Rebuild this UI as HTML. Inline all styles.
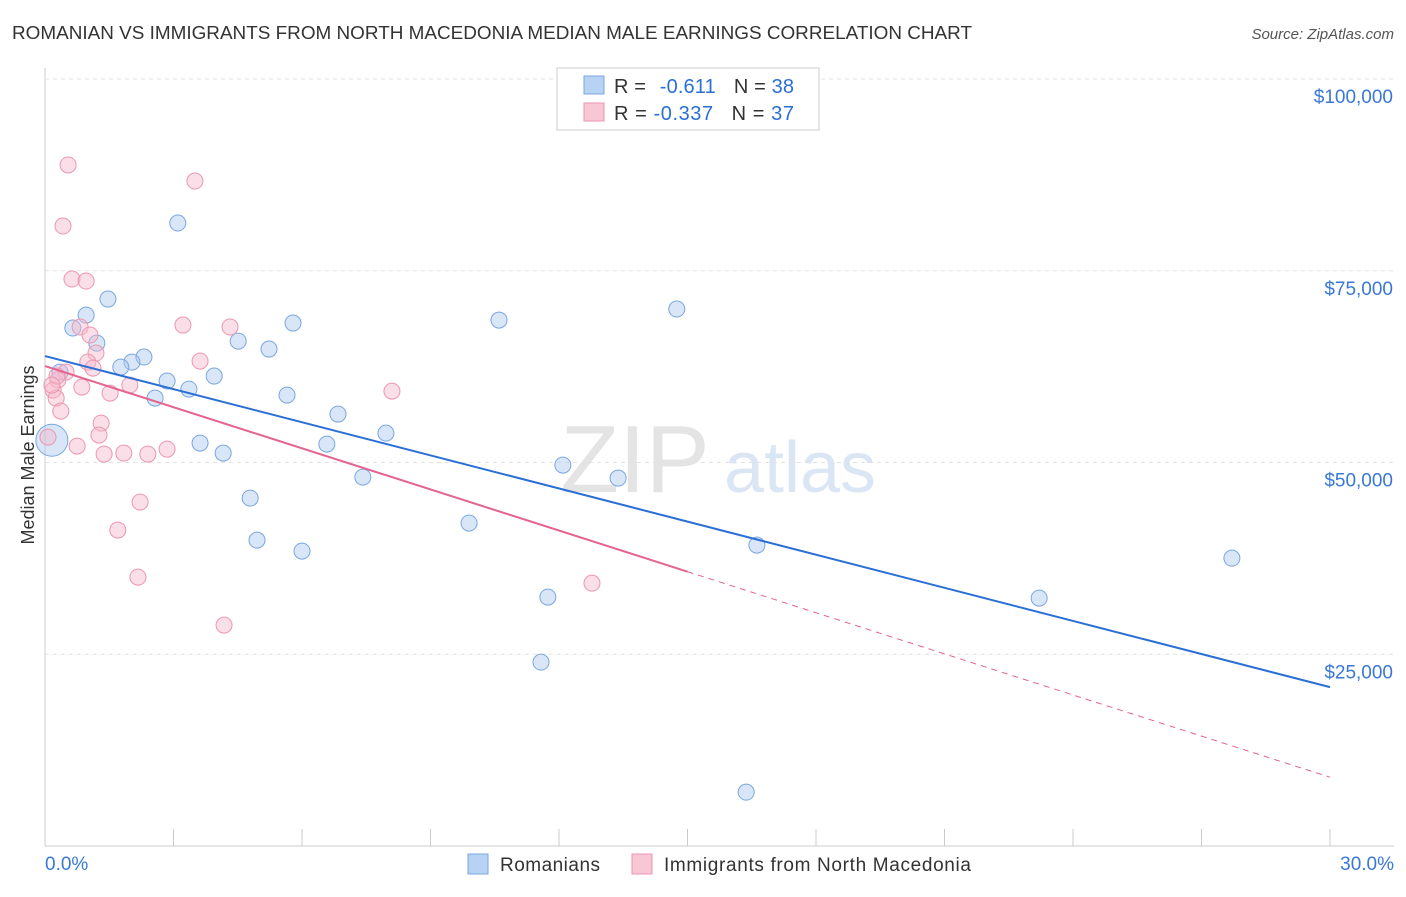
<!DOCTYPE html>
<html><head><meta charset="utf-8"><style>
body{margin:0;background:#fff;font-family:"Liberation Sans",sans-serif;}
svg text{font-family:"Liberation Sans",sans-serif;}
</style></head><body>
<svg id="chart" width="1406" height="892">
<text x="12" y="39" font-size="18.5" fill="#333" textLength="960" lengthAdjust="spacingAndGlyphs">ROMANIAN VS IMMIGRANTS FROM NORTH MACEDONIA MEDIAN MALE EARNINGS CORRELATION CHART</text>
<text x="1394" y="39" font-size="15" fill="#555" text-anchor="end" font-style="italic">Source: ZipAtlas.com</text>
<text x="34" y="455" font-size="18" fill="#333" text-anchor="middle" transform="rotate(-90 34 455)">Median Male Earnings</text>
<text x="635" y="492" font-size="96" fill="#e4e4e4" font-family="Liberation Serif" text-anchor="middle">ZIP</text>
<text x="800" y="492" font-size="72" fill="#dbe6f5" text-anchor="middle">atlas</text>
<g id="grid"></g><g id="marks"></g>
<g>
<rect x="557" y="68" width="262" height="62" fill="#fff" stroke="#ccc"/>
<rect x="584" y="76" width="20" height="18" fill="#b8d2f3" stroke="#7aa7e0"/>
<rect x="584" y="103" width="20" height="18" fill="#f9c6d5" stroke="#eb97b0"/>
<text x="614" y="93" font-size="20" fill="#333" textLength="180" lengthAdjust="spacing">R = <tspan fill="#2a6fd6" dx="8">-0.611</tspan><tspan dx="18" fill="#333">N = </tspan><tspan fill="#2a6fd6">38</tspan></text>
<text x="614" y="120" font-size="20" fill="#333" textLength="180" lengthAdjust="spacing">R = <tspan fill="#2a6fd6">-0.337</tspan><tspan dx="18" fill="#333">N = </tspan><tspan fill="#2a6fd6">37</tspan></text>
</g>
<g>
<rect x="468" y="854" width="20" height="20" fill="#b8d2f3" stroke="#7aa7e0"/>
<text x="500" y="871" font-size="19" fill="#333" textLength="100">Romanians</text>
<rect x="632" y="854" width="20" height="20" fill="#f9c6d5" stroke="#eb97b0"/>
<text x="664" y="871" font-size="19" fill="#333" textLength="307">Immigrants from North Macedonia</text>
</g>
</svg>
<script>
const yTicks=[25000,50000,75000,100000];
const yTickLabels=["$25,000","$50,000","$75,000","$100,000"];
const romX=[0.16,3.10,1.47,0.96,0.65,1.21,2.31,2.03,1.77,0.35,2.85,3.95,3.36,2.57,4.51,5.23,5.79,5.65,6.84,6.58,7.96,7.42,3.62,4.16,4.79,4.95,6.00,10.60,14.75,12.09,13.38,9.90,11.74,11.58,16.62,23.21,27.71,16.37];
const romY=[52900,81220,71310,69220,67530,65570,63750,63090,62440,61790,60620,61270,59570,58400,65830,64790,68180,58790,56310,52400,53830,48100,52530,51230,45360,39880,38450,68570,70010,49660,47970,42100,32450,23970,39230,32320,37530,7020];
const macX=[0.54,3.50,0.42,0.63,0.96,3.22,4.32,0.82,1.05,1.19,1.00,1.12,3.62,0.49,0.30,0.19,0.86,1.52,1.98,0.26,0.37,8.10,1.31,1.26,0.07,0.75,1.38,1.84,2.40,2.85,2.22,1.70,2.17,12.77,4.18,0.28,0.16];
const macY=[88790,86700,80830,73920,73660,67920,67660,67660,66620,64270,63090,62310,63220,61790,60750,59440,59830,59050,60090,58400,56700,59310,55140,53570,53310,52140,51100,51230,51100,51750,44840,41190,35060,34270,28800,61270,60090];
const romTrend=[63880,20710];
const macTrend=[62570,8970];
const macSolidEnd=15;
const X=v=>45+v/30*1285, Y=v=>846-v/100000*767;
const NS="http://www.w3.org/2000/svg";
const grid=document.getElementById('grid'), marks=document.getElementById('marks');
function mk(p,tag,a){const e=document.createElementNS(NS,tag);for(const k in a)e.setAttribute(k,a[k]);p.appendChild(e);return e;}
let ax=mk(grid,'line',{x1:45,x2:45,y1:68,y2:846,stroke:'#ccc'});


let bx=mk(grid,'line',{x1:45,x2:1394,y1:846,y2:846,stroke:'#ccc'});


for(let i=0;i<=10;i++){let t=mk(grid,'line',{x1:X(i*3),x2:X(i*3),y1:829,y2:846,stroke:'#ccc'});

}
yTicks.forEach((v,i)=>{let g=mk(grid,'line',{x1:45,x2:1394,y1:Y(v),y2:Y(v),stroke:'#e2e2e2','stroke-dasharray':'4 4'});


let t=mk(grid,'text',{x:1393,y:Y(v)+24,'font-size':19,fill:'#3a78d8','text-anchor':'end'});t.textContent=yTickLabels[i];

});
let l0=mk(grid,'text',{x:45,y:870,'font-size':19,fill:'#3a78d8'});l0.textContent='0.0%';


let l1=mk(grid,'text',{x:1394,y:870,'font-size':19,fill:'#3a78d8','text-anchor':'end'});l1.textContent='30.0%';


romX.forEach((x,i)=>{let c=mk(marks,'circle',{cx:X(x),cy:Y(romY[i]),r:i==0?16:8,fill:'rgba(169,200,240,0.45)',stroke:'#7aa7e0','stroke-width':1});

});
macX.forEach((x,i)=>{let c=mk(marks,'circle',{cx:X(x),cy:Y(macY[i]),r:8,fill:'rgba(247,184,203,0.45)',stroke:'#eb97b0','stroke-width':1});

});
const macAt=x=>macTrend[0]+(macTrend[1]-macTrend[0])*x/30;
let t1=mk(marks,'line',{x1:X(0),y1:Y(romTrend[0]),x2:X(30),y2:Y(romTrend[1]),stroke:'#2a6fd6','stroke-width':2});


let t2=mk(marks,'line',{x1:X(0),y1:Y(macTrend[0]),x2:X(macSolidEnd),y2:Y(macAt(macSolidEnd)),stroke:'#e4648f','stroke-width':2});


let t3=mk(marks,'line',{x1:X(macSolidEnd),y1:Y(macAt(macSolidEnd)),x2:X(30),y2:Y(macTrend[1]),stroke:'#e4648f','stroke-width':1,'stroke-dasharray':'6 5'});


</script>
</body></html>
